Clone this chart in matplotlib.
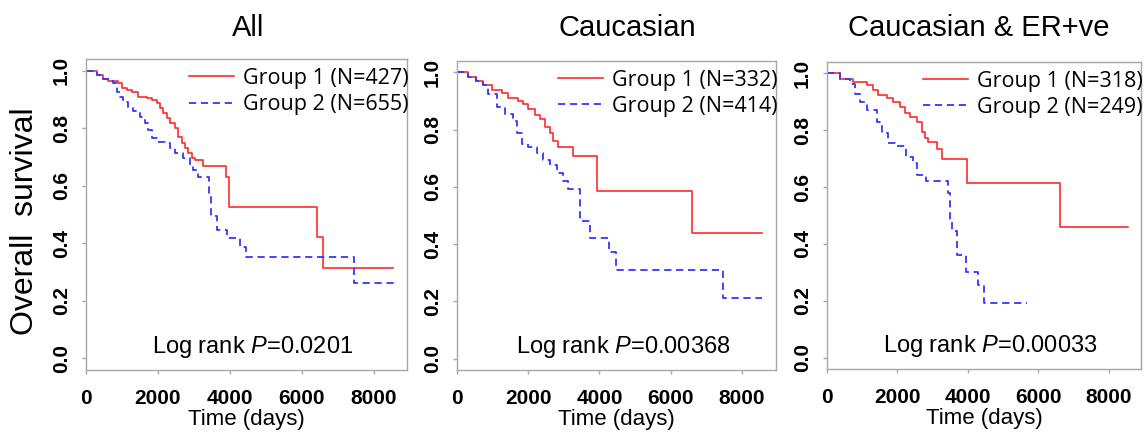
import matplotlib
matplotlib.use("Agg")
import matplotlib.pyplot as plt

# Kaplan-Meier step points (time in days, survival)
titles = ["All", "Caucasian", "Caucasian & ER+ve"]
pvalues = ["0.0201", "0.00368", "0.00033"]
n_group1 = [427, 332, 318]
n_group2 = [655, 414, 249]

g1_time_all = [0, 310, 470, 610, 890, 1000, 1140, 1280, 1440, 1690, 1830, 1970, 2060, 2140,
               2250, 2330, 2470, 2560, 2670, 2750, 2830, 2940, 3030, 3250, 3890, 3970, 6420,
               6580, 8530]
g1_surv_all = [1.0, 0.983, 0.972, 0.965, 0.955, 0.938, 0.933, 0.924, 0.907, 0.903, 0.896, 0.886,
               0.869, 0.851, 0.834, 0.817, 0.8, 0.768, 0.747, 0.73, 0.713, 0.695, 0.689, 0.668,
               0.63, 0.526, 0.422, 0.315, 0.315]
g2_time_all = [0, 310, 470, 670, 750, 860, 940, 1030, 1170, 1310, 1500, 1640, 1720, 1830, 1970,
               2190, 2330, 2470, 2690, 2890, 2970, 3110, 3420, 3470, 3640, 3920, 4280, 4440,
               7440, 8640]
g2_surv_all = [1.0, 0.983, 0.972, 0.965, 0.955, 0.924, 0.907, 0.889, 0.869, 0.858, 0.837, 0.817,
               0.792, 0.765, 0.751, 0.747, 0.73, 0.713, 0.695, 0.671, 0.654, 0.63, 0.56, 0.495,
               0.446, 0.419, 0.388, 0.353, 0.263, 0.263]

g1_time_cau = [0, 300, 520, 730, 980, 1260, 1430, 1710, 1850, 2000, 2190, 2330, 2470, 2610,
               2700, 2840, 3260, 3930, 6600, 8570]
g1_surv_cau = [1.0, 0.985, 0.97, 0.955, 0.94, 0.927, 0.91, 0.9, 0.89, 0.873, 0.85, 0.838, 0.808,
               0.79, 0.762, 0.738, 0.707, 0.584, 0.44, 0.44]
g2_time_cau = [0, 300, 520, 730, 870, 1120, 1350, 1570, 1690, 1830, 2000, 2250, 2420, 2610,
               2810, 2980, 3120, 3450, 3730, 4270, 4470, 7470, 8570]
g2_surv_cau = [1.0, 0.985, 0.97, 0.955, 0.925, 0.878, 0.855, 0.832, 0.79, 0.75, 0.738, 0.72,
               0.695, 0.675, 0.647, 0.622, 0.594, 0.482, 0.42, 0.374, 0.308, 0.21, 0.21]

g1_time_er = [0, 370, 740, 1130, 1300, 1450, 1700, 1870, 2070, 2210, 2350, 2550, 2700, 2780,
              2870, 3120, 3260, 3970, 6610, 8540]
g1_surv_er = [1.0, 0.979, 0.97, 0.96, 0.94, 0.923, 0.912, 0.9, 0.88, 0.86, 0.846, 0.83, 0.794,
              0.774, 0.758, 0.735, 0.7, 0.613, 0.46, 0.46]
g2_time_er = [0, 370, 650, 790, 940, 1130, 1420, 1560, 1730, 1930, 2240, 2440, 2550, 2810,
              3430, 3490, 3550, 3690, 3940, 4280, 4450, 5670]
g2_surv_er = [1.0, 0.979, 0.963, 0.926, 0.9, 0.87, 0.83, 0.79, 0.755, 0.744, 0.705, 0.684,
              0.642, 0.62, 0.578, 0.484, 0.446, 0.36, 0.302, 0.256, 0.193, 0.193]

curves = [
    (g1_time_all, g1_surv_all, g2_time_all, g2_surv_all),
    (g1_time_cau, g1_surv_cau, g2_time_cau, g2_surv_cau),
    (g1_time_er, g1_surv_er, g2_time_er, g2_surv_er),
]

plt.rcParams['font.family'] = ['Liberation Sans', 'DejaVu Sans']
plt.rcParams['mathtext.fontset'] = 'custom'
plt.rcParams['mathtext.rm'] = 'Liberation Sans'
plt.rcParams['mathtext.it'] = 'Liberation Sans:italic'

red = '#ff2a2a'
blue = '#3535ff'
frame = '#a8a8a8'

fig = plt.figure(figsize=(11.47, 4.32), dpi=100)

# axes boxes in pixels: left, right, top, bottom
boxes = [(86, 407, 59, 370), (457, 776, 61, 370), (827, 1141, 62, 369)]
xmax = [8920, 8960, 8910]
title_x = [248, 627, 979]

for i, (l, r, t, b) in enumerate(boxes):
    ax = fig.add_axes([l / 1147, (432 - b) / 432, (r - l) / 1147, (b - t) / 432])
    t1, s1, t2, s2 = curves[i]
    ax.step(t1, s1, where='post', color=red, lw=1.2,
            label='Group 1 (N=%d)' % n_group1[i])
    ax.step(t2, s2, where='post', color=blue, lw=1.3, dashes=(4, 2.6),
            label='Group 2 (N=%d)' % n_group2[i])

    ax.set_xlim(0, xmax[i])
    ax.set_ylim(-0.04, 1.04)
    ax.set_xticks([0, 2000, 4000, 6000, 8000])
    ax.set_yticks([0.0, 0.2, 0.4, 0.6, 0.8, 1.0])
    ax.set_yticklabels(['0.0', '0.2', '0.4', '0.6', '0.8', '1.0'], rotation=90, va='center')
    ax.tick_params(axis='both', colors=frame, length=3, width=1, labelcolor='black',
                   labelsize=15)
    ax.tick_params(axis='x', pad=11)
    ax.tick_params(axis='y', pad=8)
    for lab in ax.get_xticklabels() + ax.get_yticklabels():
        lab.set_fontweight('bold')
    for sp in ax.spines.values():
        sp.set_color(frame)
        sp.set_linewidth(1.0)

    ax.set_xlabel('Time (days)', fontsize=16, labelpad=0.5)

    leg = ax.legend(loc='upper right', bbox_to_anchor=(1.005, 0.972), frameon=False,
                    prop={'family': 'Open Sans', 'size': 15.5}, handlelength=2.1,
                    handletextpad=0.4, borderpad=0, borderaxespad=0, labelspacing=0.25)

    ax.text(0.52, 0.074, 'Log rank $\\it{P}$=' + pvalues[i], transform=ax.transAxes,
            ha='center', va='center', fontsize=17)

    fig.text(title_x[i] / 1147, 1 - 28 / 432, titles[i], ha='center', va='center',
             fontsize=21)

fig.text(25 / 1147, 1 - 221 / 432, 'Overall  survival', rotation=90, ha='center',
         va='center', fontsize=23)

fig.savefig('out.png', dpi=100)
